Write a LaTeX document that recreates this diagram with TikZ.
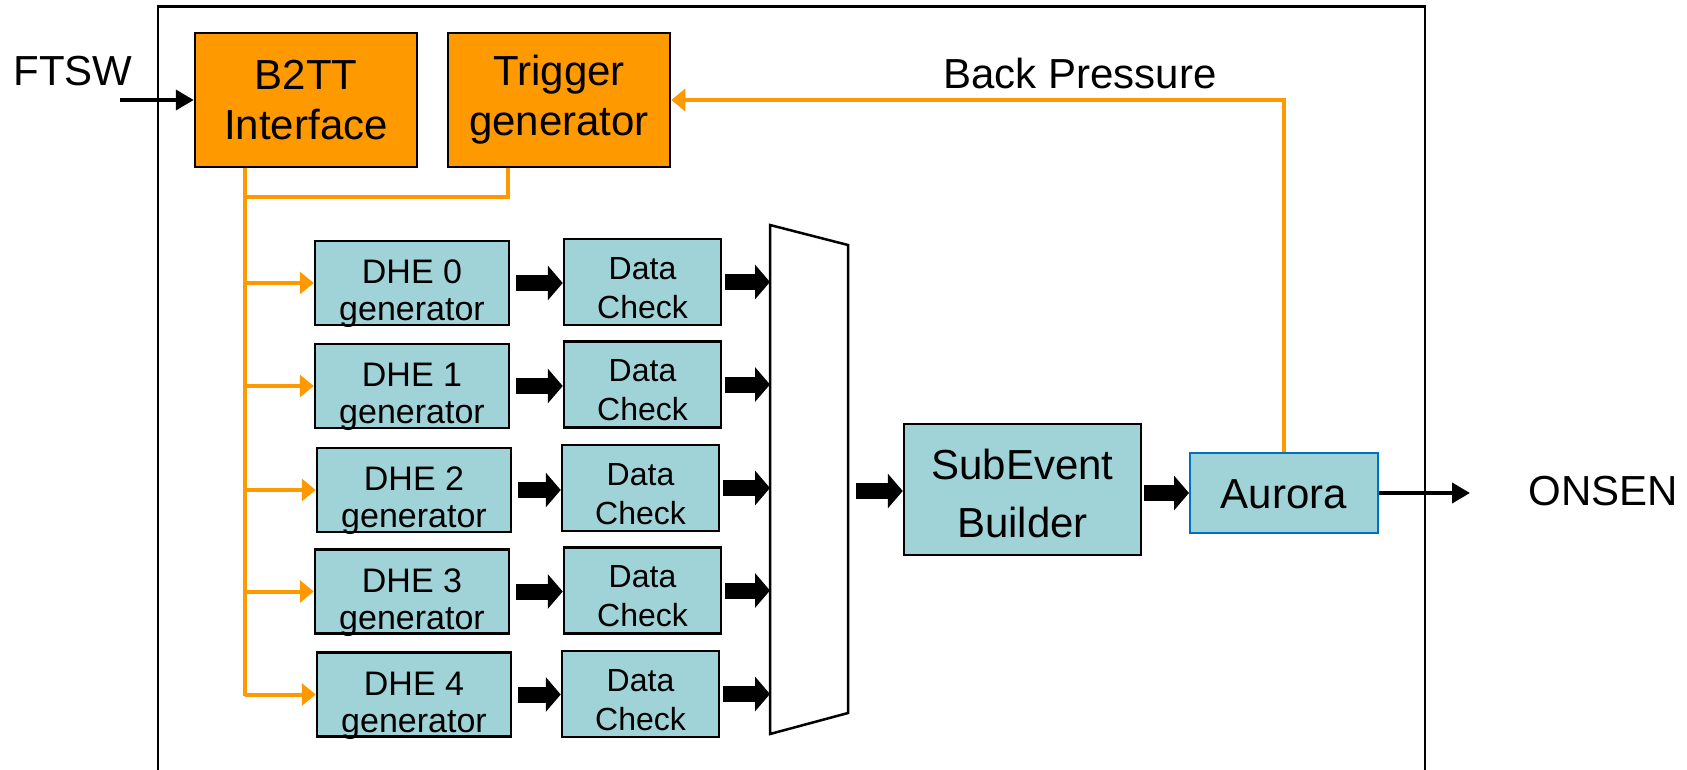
\documentclass[tikz,border=0pt]{standalone}
\usepackage{fontspec}
\setmainfont{Liberation Sans}
\usetikzlibrary{arrows.meta}
\definecolor{fpgaorange}{RGB}{255,153,0}
\definecolor{blockteal}{RGB}{160,211,215}
\definecolor{linkblue}{RGB}{0,112,192}
\tikzset{
  ctrlbox/.style={draw=black, line width=2.5pt, fill=fpgaorange, align=center,
    minimum width=222pt, minimum height=134pt, inner sep=0pt,
    font=\fontsize{42}{50}\selectfont},
  genbox/.style={draw=black, line width=2.5pt, fill=blockteal,
    minimum width=194pt, minimum height=84pt, inner sep=0pt},
  gentext/.style={font=\fontsize{34}{37}\selectfont, align=center,
    inner sep=0pt, yshift=-11pt},
  chkbox/.style={draw=black, line width=2.5pt, fill=blockteal,
    minimum width=157pt, minimum height=86pt, inner sep=0pt},
  chktext/.style={font=\fontsize{32}{39}\selectfont, align=center,
    inner sep=0pt, yshift=-6pt},
  bigbox/.style={draw=black, line width=2.5pt, fill=blockteal,
    inner sep=0pt},
  bigtext/.style={font=\fontsize{42}{58}\selectfont, align=center,
    inner sep=0pt},
  outtext/.style={font=\fontsize{42}{50}\selectfont, inner sep=0pt},
  trig/.style={draw=fpgaorange, line width=4pt,
    -{Triangle[length=14pt 0 0, width=22pt 0 0]}},
  trigline/.style={draw=fpgaorange, line width=4pt},
  bus/.style={draw=black, line width=16pt,
    -{Triangle[length=15pt 0 0, width=34pt 0 0]}},
  wire/.style={draw=black, line width=4pt,
    -{Triangle[length=18pt 0 0, width=20pt 0 0]}},
}
\begin{document}
\begin{tikzpicture}[x=1pt, y=-1pt]
\useasboundingbox (0,0) rectangle (1687,769);
% enclosing board outline
\draw[line width=2.5pt] (158,780) -- (158,6.5) -- (1425,6.5) -- (1425,780);

% trigger and timing blocks
\node[ctrlbox] (b2tt) at (306,100) {B2TT\\Interface};
\node[ctrlbox] (trg) at (559,100) {Trigger\\generator};

% data generators and checkers
\node[genbox, label={[gentext]center:DHE 0\\generator}] (dhe0) at (412,283) {};
\node[genbox, label={[gentext]center:DHE 1\\generator}] (dhe1) at (412,386) {};
\node[genbox, label={[gentext]center:DHE 2\\generator}] (dhe2) at (414,490) {};
\node[genbox, label={[gentext]center:DHE 3\\generator}] (dhe3) at (412,591.5) {};
\node[genbox, label={[gentext]center:DHE 4\\generator}] (dhe4) at (414,694.5) {};

\node[chkbox, label={[chktext]center:Data\\Check}] (dc0) at (642.5,282) {};
\node[chkbox, label={[chktext]center:Data\\Check}] (dc1) at (642.5,384.5) {};
\node[chkbox, label={[chktext]center:Data\\Check}] (dc2) at (640.5,488) {};
\node[chkbox, label={[chktext]center:Data\\Check}] (dc3) at (642.5,590.5) {};
\node[chkbox, label={[chktext]center:Data\\Check}] (dc4) at (640.5,694) {};

% multiplexer
\draw[line width=2.5pt, fill=white] (770,225) -- (848,245) -- (848,713) -- (770,734) -- cycle;
\coordinate (muxin) at (770,0);
\coordinate (muxout) at (856,491);

\node[bigbox, minimum width=237pt, minimum height=131pt,
  label={[bigtext, yshift=-4pt]center:SubEvent\\Builder}] (seb) at (1022.5,489.5) {};
\node[bigbox, draw=linkblue, line width=2pt, minimum width=188pt, minimum height=80pt,
  label={[bigtext, yshift=-1pt]center:Aurora}] (aur) at (1284,493) {};

% outside labels
\node[outtext] (ftsw) at (73,71) {FTSW};
\node[outtext] (onsen) at (1603,491) {ONSEN};
\node[outtext] (bp) at (1080,73) {Back Pressure};
\coordinate (ftswin) at (120,100);
\coordinate (onsenout) at (1470,0);

% trigger distribution
\coordinate (trunk) at ([xshift=-61pt]b2tt.south);
\coordinate (trgtap) at ([xshift=-51pt]trg.south);
\coordinate (trunkend) at (245,696);
\draw[trigline] (trunk) -- (trunkend);
\draw[trigline] (trgtap) |- (245,197);
\foreach \i in {0,...,4} {
  \draw[trig] (dhe\i.west -| trunk) -- (dhe\i.west);
}
\draw[trig] (aur.north) |- (trg.east);

% data paths
\foreach \i in {0,...,4} {
  \draw[bus] ([xshift=6pt]dhe\i.east) -- (dc\i.west |- dhe\i.east);
  \draw[bus] ([xshift=3pt]dc\i.east) -- (dc\i.east -| muxin);
}
\draw[bus] (muxout) -- (seb.west |- muxout);
\draw[bus] ([xshift=2pt]seb.east |- aur.west) -- (aur.west);
\draw[wire] (aur.east) -- (aur.east -| onsenout);
\draw[wire] (ftswin) -- (b2tt.west);
\end{tikzpicture}
\end{document}
